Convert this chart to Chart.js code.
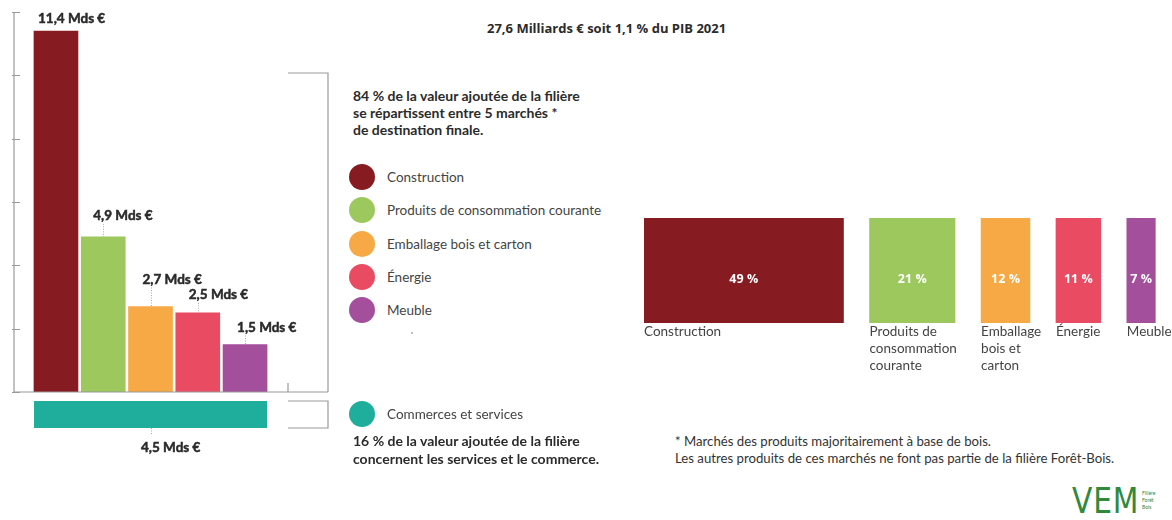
<!DOCTYPE html>
<html lang="fr">
<head>
<meta charset="utf-8">
<title>Valeur ajoutée de la filière Forêt-Bois</title>
<script src="https://cdn.jsdelivr.net/npm/chart.js@4.4.1/dist/chart.umd.min.js"></script>
<style>
  html, body { margin: 0; padding: 0; background: #fff; }
  #page { position: relative; width: 1172px; height: 520px; overflow: hidden;
          font-family: Lato, "Open Sans", sans-serif; color: #333; }
  #page canvas { position: absolute; }
  .txt { position: absolute; white-space: nowrap; }
  .title { font-family: "Open Sans", sans-serif; font-weight: 700; font-size: 13px; color: #2b2b2b; }
  .note { font-weight: 700; font-size: 14px; line-height: 17px; color: #2b2b2b; }
  .legend { position: absolute; left: 349px; font-size: 13.5px; color: #444; }
  .legend .item { position: absolute; left: 0; height: 26px; display: flex; align-items: center; white-space: nowrap; }
  .legend .dot { width: 26px; height: 26px; border-radius: 50%; margin-right: 12px; flex: none; }
  .speck { position: absolute; left: 411px; top: 332px; width: 2px; height: 2px; border-radius: 50%; background: #aaa; }
  .foot { font-size: 13.2px; line-height: 17px; color: #333; }
  .logo { position: absolute; left: 1070px; top: 481px; width: 100px; height: 42px; }
  .logo .vem { position: absolute; left: 2px; top: 0; font-family: "DejaVu Sans", sans-serif; font-size: 35px; letter-spacing: 1px;
               color: #2f8a3c; font-weight: 400; transform: scaleX(0.85); transform-origin: left top; }
  .logo .sub { position: absolute; left: 72px; top: 9px; font-size: 5px; line-height: 7px; color: #2f8a3c; }
</style>
</head>
<body>
<div id="page">
  <canvas id="valueChart" width="340" height="400" style="left:0;top:0"></canvas>
  <canvas id="servicesChart" width="340" height="65" style="left:0;top:395px"></canvas>
  <canvas id="shareChart" width="528" height="190" style="left:644px;top:200px"></canvas>

  <div class="txt title" style="left:487px;top:19px">27,6 Milliards € soit 1,1 % du PIB 2021</div>

  <div class="txt note" style="left:353px;top:87px">84 % de la valeur ajoutée de la filière<br>se répartissent entre 5 marchés *<br>de destination finale.</div>

  <div class="legend" id="marketLegend"></div>
  <div class="speck"></div>

  <div class="txt note" style="left:353px;top:432px;line-height:18px">16 % de la valeur ajoutée de la filière<br>concernent les services et le commerce.</div>

  <div class="txt foot" style="left:675px;top:433px">* Marchés des produits majoritairement à base de bois.<br>Les autres produits de ces marchés ne font pas partie de la filière Forêt-Bois.</div>

  <div class="logo">
    <div class="vem">VEM</div>
    <div class="sub">Filière<br>Forêt<br>Bois</div>
  </div>
</div>

<script>
// Valeur ajoutée par marché de destination finale (milliards d'euros)
const markets = ['Construction', 'Produits de consommation courante', 'Emballage bois et carton', 'Énergie', 'Meuble'];
const marketValues = [11.4, 4.9, 2.7, 2.5, 1.5];
// Part de chaque marché dans les 84 % (en %)
const marketShares = [49, 21, 12, 11, 7];
// Libellés sous les barres de parts, coupés en lignes
const shareLabelLines = [
  ['Construction'],
  ['Produits de', 'consommation', 'courante'],
  ['Emballage', 'bois et', 'carton'],
  ['Énergie'],
  ['Meuble']
];
const marketColors = ['#861b21', '#9cc85e', '#f6a944', '#e94b63', '#a44f9b'];

// Commerces et services (milliards d'euros)
const servicesLabels = ['Commerces et services'];
const servicesValues = [4.5];
const servicesColor = '#1fae9c';

// Graduations de l'axe vertical
const axisTicks = [0, 2, 4, 6, 8, 10, 12];

const unit = ' Mds €';
const fmt = v => v.toFixed(1).replace('.', ',') + unit;
const GREY = '#9a9a9a';
const LABEL_FONT = 'bold 13.5px Lato, "Open Sans", sans-serif';

// Légende en pastilles
(function buildLegend() {
  const box = document.getElementById('marketLegend');
  const rows = markets.map((m, i) => ({ label: m, color: marketColors[i], top: 164 + i * 33.3 }));
  rows.push({ label: servicesLabels[0], color: servicesColor, top: 401 });
  rows.forEach(r => {
    const it = document.createElement('div');
    it.className = 'item';
    it.style.top = r.top + 'px';
    const d = document.createElement('span');
    d.className = 'dot';
    d.style.background = r.color;
    const t = document.createElement('span');
    t.textContent = r.label;
    it.appendChild(d);
    it.appendChild(t);
    box.appendChild(it);
  });
})();

function dottedLine(ctx, x, y0, y1) {
  ctx.save();
  ctx.strokeStyle = '#aaa';
  ctx.lineWidth = 1;
  ctx.setLineDash([1, 1.5]);
  ctx.beginPath();
  ctx.moveTo(x + 0.5, y0);
  ctx.lineTo(x + 0.5, y1);
  ctx.stroke();
  ctx.restore();
}

// Texte gras légèrement épaissi
function heavyText(ctx, text, x, y) {
  ctx.save();
  ctx.font = LABEL_FONT;
  ctx.fillStyle = '#2b2b2b';
  ctx.strokeStyle = '#2b2b2b';
  ctx.lineWidth = 0.5;
  ctx.textAlign = 'left';
  ctx.textBaseline = 'middle';
  ctx.fillText(text, x, y);
  ctx.strokeText(text, x, y);
  ctx.restore();
}

// Axe, graduations, accolade et étiquettes de valeur des barres verticales
const labelLift = [12, 21, 27, 18, 17];
const labelDx = [-18, -10, -8, -9, -8];
const valueFrame = {
  id: 'valueFrame',
  afterDatasetsDraw(chart) {
    const { ctx, chartArea: a, scales: { y } } = chart;
    ctx.save();
    ctx.strokeStyle = GREY;
    ctx.lineWidth = 1.2;
    ctx.beginPath();
    ctx.moveTo(a.left, a.top);
    ctx.lineTo(a.left, a.bottom);
    ctx.lineTo(a.right, a.bottom);
    axisTicks.forEach(t => {
      const py = Math.round(y.getPixelForValue(t)) + 0.5;
      ctx.moveTo(a.left - 2, py);
      ctx.lineTo(a.left + 6, py);
    });
    // accolade des 5 marchés
    const top = a.top + 61;
    ctx.moveTo(a.right - 40, top);
    ctx.lineTo(a.right, top);
    ctx.lineTo(a.right, a.bottom);
    ctx.moveTo(a.right - 40, a.bottom);
    ctx.lineTo(a.right - 40, a.bottom - 9);
    ctx.stroke();
    ctx.restore();

    const meta = chart.getDatasetMeta(0);
    meta.data.forEach((bar, i) => {
      const ty = bar.y - labelLift[i];
      if (labelLift[i] > 14) dottedLine(ctx, Math.round(bar.x), ty + 8, bar.y);
      heavyText(ctx, fmt(marketValues[i]), bar.x + labelDx[i], ty);
    });
  }
};

new Chart(document.getElementById('valueChart'), {
  type: 'bar',
  data: {
    datasets: [{
      data: marketValues.map((v, i) => ({ x: i, y: v })),
      backgroundColor: marketColors,
      borderWidth: 0,
      barThickness: 44
    }]
  },
  options: {
    responsive: false,
    animation: false,
    devicePixelRatio: 1,
    layout: { padding: { left: 14, top: 12, right: 12, bottom: 8 } },
    plugins: { legend: { display: false }, tooltip: { enabled: false } },
    scales: {
      x: { type: 'linear', display: false, offset: false, min: -0.888, max: 5.755 },
      y: { display: false, min: 0, max: 12 }
    }
  },
  plugins: [valueFrame]
});

// Barre des commerces et services, avec son accolade
const servicesFrame = {
  id: 'servicesFrame',
  afterDatasetsDraw(chart) {
    const { ctx, chartArea: a } = chart;
    const bar = chart.getDatasetMeta(0).data[0];
    ctx.save();
    ctx.strokeStyle = GREY;
    ctx.lineWidth = 1.2;
    ctx.beginPath();
    const bx0 = a.right + 21, bx1 = a.right + 61;
    ctx.moveTo(bx0, a.top);
    ctx.lineTo(bx1, a.top);
    ctx.lineTo(bx1, a.bottom);
    ctx.lineTo(bx0, a.bottom);
    ctx.stroke();
    ctx.restore();
    const cx = Math.round((bar.base + bar.x) / 2);
    const bottom = bar.y + bar.height / 2;
    dottedLine(ctx, cx, bottom, bottom + 6);
    heavyText(ctx, fmt(servicesValues[0]), cx - 10, bottom + 20);
  }
};

new Chart(document.getElementById('servicesChart'), {
  type: 'bar',
  data: {
    labels: servicesLabels,
    datasets: [{ data: servicesValues, backgroundColor: servicesColor, borderWidth: 0, barThickness: 27 }]
  },
  options: {
    indexAxis: 'y',
    responsive: false,
    animation: false,
    devicePixelRatio: 1,
    layout: { padding: { left: 34, right: 73, top: 6, bottom: 32 } },
    plugins: { legend: { display: false }, tooltip: { enabled: false } },
    scales: {
      x: { display: false, min: 0, max: servicesValues[0] },
      y: { display: false }
    }
  },
  plugins: [servicesFrame]
});

// Parts des marchés : barres flottantes côte à côte, séparées d'un écart constant
const shareGap = 6.4;
const shareStarts = marketShares.map((s, i) =>
  marketShares.slice(0, i).reduce((acc, v) => acc + v, 0) + i * shareGap);

const shareLabels = {
  id: 'shareLabels',
  afterDatasetsDraw(chart) {
    const { ctx } = chart;
    ctx.save();
    marketShares.forEach((s, i) => {
      const bar = chart.getDatasetMeta(i).data[0];
      const cx = (bar.base + bar.x) / 2;
      const bottom = bar.y + bar.height / 2;
      ctx.font = 'bold 12.5px "Open Sans", sans-serif';
      ctx.fillStyle = '#fff';
      ctx.textAlign = 'center';
      ctx.textBaseline = 'middle';
      ctx.fillText(s + ' %', cx, bar.y + 9);
      ctx.font = '13.5px Lato, "Open Sans", sans-serif';
      ctx.fillStyle = '#444';
      ctx.textAlign = 'left';
      shareLabelLines[i].forEach((line, k) => {
        ctx.fillText(line, bar.base, bottom + 9 + k * 17);
      });
    });
    ctx.restore();
  }
};

new Chart(document.getElementById('shareChart'), {
  type: 'bar',
  data: {
    labels: ['Parts'],
    datasets: marketShares.map((s, i) => ({
      label: markets[i],
      data: [[shareStarts[i], shareStarts[i] + s]],
      backgroundColor: marketColors[i],
      borderWidth: 0,
      barThickness: 105,
      grouped: false
    }))
  },
  options: {
    indexAxis: 'y',
    responsive: false,
    animation: false,
    devicePixelRatio: 1,
    layout: { padding: { left: 0, right: 0, top: 18, bottom: 67 } },
    plugins: { legend: { display: false }, tooltip: { enabled: false } },
    scales: {
      x: { display: false, min: 0, max: 129.7 },
      y: { display: false }
    }
  },
  plugins: [shareLabels]
});
</script>
</body>
</html>
